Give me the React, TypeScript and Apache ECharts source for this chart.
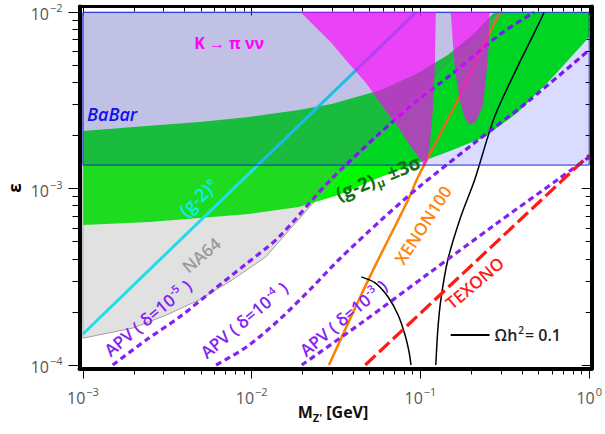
import React, { useEffect, useRef } from "react";
import * as echarts from "echarts";

// ---- axis ranges (log10 units) ----
const X_MIN = -3.0206;
const X_MAX = 0.0147;
const Y_MIN = -4.0198;
const Y_MAX = -1.9671;
const xMajor = [-3, -2, -1, 0];
const yMajor = [-4, -3, -2];
const minorMult = [2, 3, 4, 5, 6, 7, 8, 9];

// ---- regions: [mass GeV, epsilon] ----
const g2muUpper = [
  [1e-3, 2.12e-3], [2.48e-3, 2.27e-3], [4.89e-3, 2.39e-3], [9.63e-3, 2.55e-3],
  [1.9e-2, 2.79e-3], [2.97e-2, 3.02e-3], [5.85e-2, 3.63e-3], [9.66e-2, 4.53e-3],
  [0.1452, 5.73e-3], [0.2037, 7.43e-3], [0.2746, 1e-2], [1.0, 1e-2],
];
const g2muLower = [
  [1.0, 7.24e-3], [0.5867, 4.13e-3], [0.3753, 2.69e-3], [0.2397, 1.96e-3],
  [0.1511, 1.64e-3], [9.66e-2, 1.4e-3], [5.61e-2, 1.15e-3], [3.27e-2, 9.2e-4],
  [1.9e-2, 7.87e-4], [9.63e-3, 7.18e-4], [4.89e-3, 6.82e-4], [2.48e-3, 6.48e-4],
  [1e-3, 6.22e-4],
];
const na64Region = [
  [1e-3, 1e-2], [0.2977, 1e-2], [7.37e-2, 2.55e-3], [2.26e-2, 8.08e-4],
  [1.73e-2, 6.06e-4], [1.21e-2, 4.1e-4], [7.64e-3, 3.03e-4], [4.89e-3, 2.34e-4],
  [3.12e-3, 1.92e-4], [1.97e-3, 1.62e-4], [1e-3, 1.42e-4],
];
const babarRegion = [[1e-3, 1.36e-3], [1.0, 1.36e-3], [1.0, 1e-2], [1e-3, 1e-2]];
const kpiBig = [
  [1.95e-2, 1e-2], [2.97e-2, 6.69e-3], [3.74e-2, 5.16e-3], [4.71e-2, 4.02e-3],
  [6.01e-2, 2.9e-3], [7.37e-2, 2.24e-3], [8.79e-2, 1.72e-3], [0.1007, 1.45e-3],
  [0.1047, 1.36e-3], [0.1091, 1.42e-3], [0.1137, 1.77e-3], [0.1184, 2.79e-3],
  [0.1216, 4.71e-3], [0.1233, 1e-2],
];
const kpiSmall = [
  [0.1511, 1e-2], [0.1595, 4.89e-3], [0.1708, 3.18e-3], [0.1827, 2.52e-3],
  [0.1955, 2.3e-3], [0.2122, 2.39e-3], [0.2332, 2.9e-3], [0.2431, 3.97e-3],
  [0.2532, 6.11e-3], [0.2566, 1e-2],
];

// ---- curves ----
const g2eLine = [[1e-3, 1.5e-4], [0.094, 1e-2]];
const xenonLine = [
  [2.87e-2, 1e-4], [4.9e-2, 3.03e-4], [8.44e-2, 8.63e-4], [9.66e-2, 1.16e-3],
  [0.1662, 3.18e-3], [0.2566, 7.64e-3], [0.2977, 1e-2],
];
const relicRight = [
  [0.1233, 1e-4], [0.1267, 1.58e-4], [0.132, 2.34e-4], [0.1452, 3.94e-4],
  [0.1731, 6.9e-4], [0.2093, 1.12e-3], [0.2746, 2.55e-3], [0.3753, 4.89e-3],
  [0.4726, 7.64e-3], [0.5408, 1e-2],
];
const relicLeft = [
  [4.46e-2, 3.16e-4], [5.39e-2, 2.92e-4], [6.43e-2, 2.43e-4], [7.37e-2, 1.92e-4],
  [8.1e-2, 1.48e-4], [8.55e-2, 1.19e-4], [8.79e-2, 1e-4],
];
const apv5 = [
  [1.5e-3, 1e-4], [2.38e-3, 1.39e-4], [3.73e-3, 1.87e-4], [5.83e-3, 2.63e-4],
  [9.25e-3, 3.74e-4], [1.45e-2, 5.32e-4], [2.85e-2, 1.09e-3], [5.61e-2, 2.02e-3],
  [9.66e-2, 3.18e-3], [0.1511, 4.41e-3], [0.2977, 7.53e-3], [0.4726, 1e-2],
];
const apv4 = [
  [6.15e-3, 1e-4], [9.25e-3, 1.26e-4], [1.45e-2, 1.8e-4], [2.26e-2, 2.73e-4],
  [3.27e-2, 3.94e-4], [5.85e-2, 6.64e-4], [9.66e-2, 1.01e-3], [0.2093, 1.82e-3],
  [0.4298, 3.1e-3], [1.0, 6.11e-3],
];
const apv3 = [
  [1.98e-2, 1e-4], [4.46e-2, 1.73e-4], [0.1106, 3.28e-4], [0.2746, 6.22e-4],
  [0.6718, 1.15e-3], [1.0, 1.51e-3],
];
const texonoLine = [[4.71e-2, 1e-4], [1.0, 1.55e-3]];
const legendLine = [[0.1511, 1.48e-4], [0.2566, 1.48e-4]];

// ---- text labels ----
const labelTexts = [
  "{i|BaBar}",
  "{b|K → π νν}",
  "{a|(g-2)}{s|e}",
  "{a|NA64}",
  "{b|(g-2)}{d|μ}{b| ±3σ}",
  "{a|XENON100}",
  "{a|TEXONO}",
  "{a|APV ( δ=10}{s|-5}{a| )}",
  "{a|APV ( δ=10}{s|-4}{a| )}",
  "{a|APV ( δ=10}{s|-3}{a| )}",
  "{a|Ωh}{s|2}{a|= 0.1}",
];
const labelAnchors = [
  [1.056e-3, 2.72e-3], [7.35e-3, 6.69e-3], [4.82e-3, 8.97e-4], [5.02e-3, 4.21e-4],
  [5.61e-2, 1.15e-3], [0.1034, 6.22e-4], [0.2093, 2.92e-4], [2.42e-3, 1.85e-4],
  [9.0e-3, 1.8e-4], [3.49e-2, 1.85e-4], [0.275, 1.48e-4],
];
const labelRotations = [0, 0, 44, 40, 22, 57, 40, 40, 40, 40, 0];
const labelColors = [
  "#1010ee", "#ff00ff", "#10ecf0", "#9a9a9a", "#137013", "#ff8410", "#ff1a1a",
  "#8420f2", "#8420f2", "#8420f2", "#222222",
];
const labelSizes = [18, 16, 18, 17, 19, 17, 17, 17, 17, 17, 16];

const FONT = "Open Sans";
const L = Math.log10;
const toXY = (pts: number[][]) => pts.map(([m, e]) => [L(m), L(e)]);

function minorOf(decades: number[]) {
  const out: number[] = [];
  decades.forEach((d) => minorMult.forEach((k) => out.push(d + L(k))));
  return out;
}

function polySeries(pts: number[][], style: any, z: number) {
  return {
    type: "custom",
    coordinateSystem: "cartesian2d",
    silent: true,
    z,
    data: [[-3, -4]],
    renderItem: (_p: any, api: any) => ({
      type: "polygon",
      shape: { points: toXY(pts).map((p) => api.coord(p)) },
      style,
    }),
  };
}

function lineSeries(pts: number[][], color: string, width: number, type: any, z: number, smooth: number | boolean = false) {
  return {
    type: "line",
    data: toXY(pts),
    showSymbol: false,
    symbol: "none",
    silent: true,
    smooth,
    z,
    clip: true,
    lineStyle: { color, width, type, cap: "butt" },
  };
}

function labelRich(size: number, color: string) {
  const base = { fill: color, fontFamily: FONT, verticalAlign: "bottom" };
  return {
    a: { ...base, fontSize: size, fontWeight: 600, lineHeight: size + 4, padding: [0, 0, 2, 0] },
    b: { ...base, fontSize: size, fontWeight: "bold", lineHeight: size + 4, padding: [0, 0, 2, 0] },
    i: { ...base, fontSize: size, fontWeight: 600, fontStyle: "italic", lineHeight: size + 4 },
    s: { ...base, fontSize: Math.round(size * 0.62), fontWeight: 600, padding: [0, 1, 10, 1], lineHeight: 10 },
    d: { ...base, fontSize: Math.round(size * 0.62), fontWeight: "bold", padding: [0, 1, 0, 1], lineHeight: 10 },
  };
}

export default function App() {
  const ref = useRef<HTMLDivElement>(null);
  useEffect(() => {
    if (!ref.current) return;
    const chart = echarts.init(ref.current, undefined, { renderer: "svg" });
    const tickLabel = (v: number) => `{b|10}{s|${v === 0 ? "0" : "−" + Math.abs(v)}}`;
    const tickRich = {
      b: { fontSize: 16, color: "#555", fontFamily: FONT, verticalAlign: "bottom", lineHeight: 20 },
      s: { fontSize: 11, color: "#555", fontFamily: FONT, verticalAlign: "bottom", padding: [0, 0, 9, 1], lineHeight: 12 },
    };
    const baseAxis = (min: number, max: number) => ({
      type: "value",
      min,
      max,
      splitLine: { show: false },
      axisPointer: { show: false },
    });
    const xMinor = minorOf([-3, -2, -1]);
    const yMinor = minorOf([-4, -3]);

    const labelSeries = {
      type: "custom",
      coordinateSystem: "cartesian2d",
      silent: true,
      z: 10,
      data: labelTexts.map((_t, i) => [L(labelAnchors[i][0]), L(labelAnchors[i][1]), i]),
      renderItem: (_p: any, api: any) => {
        const i = api.value(2);
        const pt = api.coord([api.value(0), api.value(1)]);
        return {
          type: "text",
          x: pt[0],
          y: pt[1],
          rotation: (labelRotations[i] * Math.PI) / 180,
          style: {
            text: labelTexts[i],
            align: i === 0 || i === 10 ? "left" : "center",
            verticalAlign: "middle",
            fill: labelColors[i],
            rich: labelRich(labelSizes[i], labelColors[i]),
          },
        };
      },
    };

    const option: any = {
      animation: false,
      backgroundColor: "#fff",
      grid: { left: 79.5, top: 6.5, width: 515, height: 362, containLabel: false },
      xAxis: [
        {
          ...baseAxis(X_MIN, X_MAX),
          position: "bottom",
          axisLine: { show: true, onZero: false, lineStyle: { color: "#000", width: 4 } },
          axisTick: { show: true, customValues: xMajor, length: 10, lineStyle: { color: "#000", width: 1 } },
          axisLabel: { show: true, customValues: xMajor, formatter: tickLabel, rich: tickRich, margin: 17 },
        },
        {
          ...baseAxis(X_MIN, X_MAX),
          position: "bottom",
          axisLine: { show: false, onZero: false },
          axisTick: { show: true, customValues: xMinor, length: 6, lineStyle: { color: "#000", width: 1 } },
          axisLabel: { show: false },
        },
        {
          ...baseAxis(X_MIN, X_MAX),
          position: "top",
          axisLine: { show: true, onZero: false, lineStyle: { color: "#000", width: 3 } },
          axisTick: { show: true, inside: true, customValues: xMajor, length: 9, lineStyle: { color: "#000", width: 1 } },
          axisLabel: { show: false },
        },
        {
          ...baseAxis(X_MIN, X_MAX),
          position: "top",
          axisLine: { show: false, onZero: false },
          axisTick: { show: true, inside: true, customValues: xMinor, length: 5, lineStyle: { color: "#000", width: 1 } },
          axisLabel: { show: false },
        },
      ],
      yAxis: [
        {
          ...baseAxis(Y_MIN, Y_MAX),
          position: "left",
          axisLine: { show: true, onZero: false, lineStyle: { color: "#000", width: 4 } },
          axisTick: { show: true, customValues: yMajor, length: 11, lineStyle: { color: "#000", width: 1 } },
          axisLabel: { show: true, customValues: yMajor, formatter: tickLabel, rich: tickRich, margin: 17 },
        },
        {
          ...baseAxis(Y_MIN, Y_MAX),
          position: "left",
          axisLine: { show: false, onZero: false },
          axisTick: { show: true, customValues: yMinor, length: 7, lineStyle: { color: "#000", width: 1 } },
          axisLabel: { show: false },
        },
        {
          ...baseAxis(Y_MIN, Y_MAX),
          position: "right",
          axisLine: { show: true, onZero: false, lineStyle: { color: "#000", width: 4 } },
          axisTick: { show: true, inside: true, customValues: yMajor, length: 10, lineStyle: { color: "#000", width: 1 } },
          axisLabel: { show: false },
        },
        {
          ...baseAxis(Y_MIN, Y_MAX),
          position: "right",
          axisLine: { show: false, onZero: false },
          axisTick: { show: true, inside: true, customValues: yMinor, length: 6, lineStyle: { color: "#000", width: 1 } },
          axisLabel: { show: false },
        },
      ],
      graphic: [
        {
          type: "text",
          x: 14,
          y: 188,
          rotation: Math.PI / 2,
          style: { text: "ε", font: `bold 17px "${FONT}"`, fill: "#000", align: "center", verticalAlign: "middle" },
        },
        {
          type: "text",
          x: 333,
          y: 413,
          style: {
            text: "{m|M}{z|Z'}{m| [GeV]}",
            align: "center",
            verticalAlign: "middle",
            rich: {
              m: { fontSize: 16, fontWeight: "bold", fill: "#111", fontFamily: FONT, verticalAlign: "bottom", lineHeight: 20, padding: [0, 0, 3, 0] },
              z: { fontSize: 11, fontWeight: "bold", fill: "#111", fontFamily: FONT, verticalAlign: "bottom", lineHeight: 12 },
            },
          },
        },
      ],
      series: [
        polySeries([...g2muUpper, ...g2muLower], { fill: "rgb(0,248,0)" }, 1),
        polySeries(na64Region, { fill: "rgba(128,128,128,0.24)", stroke: "#a0a0a0", lineWidth: 1 }, 2),
        lineSeries(g2eLine, "#22dde6", 3, "solid", 3),
        lineSeries(xenonLine, "#ff8000", 2.5, "solid", 3, 0.3),
        lineSeries(relicRight, "#000", 1.5, "solid", 3, 0.3),
        lineSeries(relicLeft, "#000", 1.5, "solid", 3, 0.3),
        lineSeries(apv5, "#8420f2", 3.2, [6, 4], 3, 0.3),
        lineSeries(apv4, "#8420f2", 3.2, [6, 4], 3, 0.3),
        lineSeries(apv3, "#8420f2", 3.2, [6, 4], 3, 0.3),
        lineSeries(texonoLine, "#ff1a1a", 3.2, [14, 5], 3),
        lineSeries(legendLine, "#000", 2, "solid", 3),
        polySeries(babarRegion, { fill: "rgba(0,0,255,0.14)", stroke: "#1a2bd8", lineWidth: 1 }, 4),
        polySeries(kpiBig, { fill: "rgba(255,0,255,0.66)" }, 5),
        polySeries(kpiSmall, { fill: "rgba(255,0,255,0.66)" }, 5),
        labelSeries,
      ],
    };
    chart.setOption(option);
    return () => chart.dispose();
  }, []);
  return <div ref={ref} style={{ position: "fixed", left: 0, top: 0, width: 605, height: 434 }} />;
}
